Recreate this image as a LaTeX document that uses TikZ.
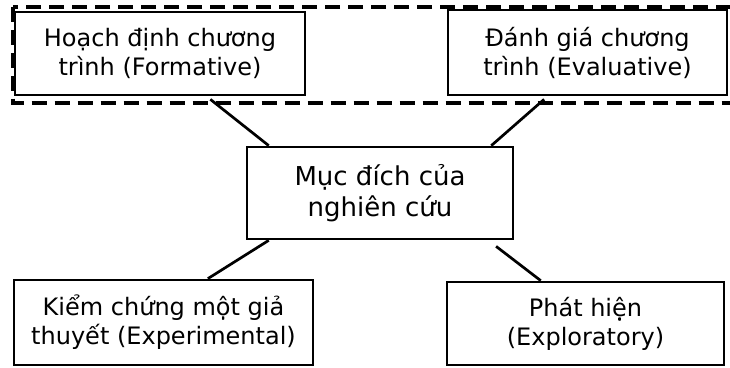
\documentclass[tikz,border=0pt]{standalone}
\usepackage{fontspec}
\setmainfont{DejaVu Sans}
\usetikzlibrary{calc}
\begin{document}
\begin{tikzpicture}[x=1pt,y=-1pt,
  box/.style={draw, line width=2.7pt, inner sep=0pt, align=center,
              font=\fontsize{24}{29}\selectfont},
  hub/.style={box, font=\fontsize{26}{31}\selectfont},
  link/.style={line width=2.7pt},
  frame/.style={line width=4pt, dash pattern=on 15pt off 8pt}]
\useasboundingbox (0,0) rectangle (730,367);

% dashed frame around the two upper boxes, running past the right edge
\begin{scope}
  \clip (0,0) rectangle (730,367);
  \draw[frame] (13,6.5) rectangle (770,103);
\end{scope}

\node[box, minimum width=290pt, minimum height=83pt] (tl) at (160,53.5)
  {Hoạch định chương\\trình (Formative)};
\node[box, minimum width=279pt, minimum height=85pt] (tr) at (587.5,52.5)
  {Đánh giá chương\\trình (Evaluative)};
\node[hub, minimum width=266pt, minimum height=92pt] (c) at (380,193)
  {Mục đích của\\nghiên cứu};
\node[box, minimum width=299pt, minimum height=85pt] (bl) at (163.5,322.5)
  {Kiểm chứng một giả\\thuyết (Experimental)};
\node[box, minimum width=277pt, minimum height=83pt] (br) at (585.5,323.5)
  {Phát hiện\\(Exploratory)};

\draw[link] ($(tl.south west)!0.672!(tl.south east)+(0,3)$) -- ($(c.north west)!0.086!(c.north east)$);
\draw[link] ($(tr.south west)!0.346!(tr.south east)+(0,3)$) -- ($(c.north west)!0.914!(c.north east)$);
\draw[link] ($(c.south west)!0.086!(c.south east)$) -- ($(bl.north west)!0.647!(bl.north east)$);
\draw[link] ($(c.south west)!0.932!(c.south east)+(0,6)$) -- ($(br.north west)!0.34!(br.north east)$);
\end{tikzpicture}
\end{document}
